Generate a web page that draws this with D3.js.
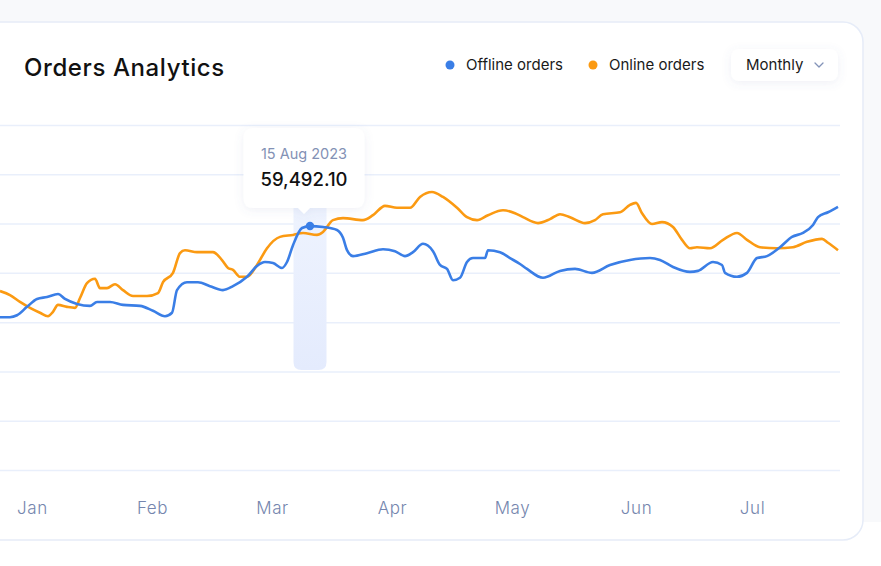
<!DOCTYPE html>
<html>
<head>
<meta charset="utf-8">
<script src="https://cdn.jsdelivr.net/npm/d3@7"></script>
<style>
  html, body { margin: 0; padding: 0; background: #ffffff; }
  svg { display: block; font-family: Inter, "Open Sans", sans-serif; }
</style>
</head>
<body>
<svg id="chart" width="881" height="566"></svg>
<script>
// ---------- DATA ----------
const monthLabels = ["Jan", "Feb", "Mar", "Apr", "May", "Jun", "Jul"];
const monthTickDays = [8, 38, 68, 98, 128, 159, 188];
const yTickValues = [10000, 20000, 30000, 40000, 50000, 60000, 70000, 80000];

const offlineDays = [0,2.5,4.25,6.75,9.25,11.75,14.5,16.25,19.25,22.5,24.25,27.5,30.75,35,38.25,41.25,43,44.25,46.75,49.5,52.5,55.75,58.25,61.75,64.25,66.25,68.25,70.5,71.75,73.25,75.5,77.5,80.75,84.25,85.75,86.75,88.25,91.75,95.75,98.75,101.25,103.25,105.75,108.25,110,111.75,113.25,115,116.75,118.25,121.25,122,125,127.5,130,131.75,135.75,140,143.75,148,152.5,157.5,162.5,165,168.25,172.5,174.5,178.25,180.5,181.25,184.25,186.75,189.25,191.75,195,198,200.75,203.25,204.5,207,209.5];
const offlineValues = [41000,41000,41400,43100,44700,45100,45700,44700,43700,43300,44100,44100,43500,43300,42300,41200,41900,46500,48100,48100,47300,46500,47300,49200,51400,52200,52000,51000,52200,55600,59100,59492.1,59300,58700,57100,54600,53400,54000,54800,54400,53400,54200,55900,54400,51600,50800,48500,49000,52200,53000,53000,54600,54200,53000,51800,50800,49000,50400,50800,50000,51600,52600,53000,52600,51200,50200,50400,52200,51600,50000,49200,50000,53000,53400,55200,57300,58100,59700,61300,62300,63400];

const onlineDays = [0,2.5,5,7.5,10,12,13.25,14.5,16.75,18.75,20,21.75,23.75,25,26.75,28.75,30.75,33.25,36.75,39.5,40.75,43.25,45,46.25,49.25,53.25,55.5,57,58.25,60,61.75,64.25,66.75,70,73.25,75.75,79.25,80.75,83.25,85.75,90.75,93.25,96.25,99.25,102.5,105,108,110.75,114.25,116.75,119.25,122,125.75,128.75,130.75,134.5,137.5,140,142.5,146.25,148.75,150.75,155,157.5,159,160.5,163,165.5,168.25,170.5,172.5,174.25,177.5,180.75,184.25,186.75,190,194.25,198.25,201.75,205.5,207,209.5];
const onlineValues = [46300,45500,44100,42900,41900,41200,42100,43500,43100,42900,44900,47900,48800,46900,46900,47700,46500,45300,45300,45900,48100,50000,54000,54600,54200,54200,52600,51000,50600,49200,49200,51600,55000,57300,57700,58100,57700,58300,60700,61100,60700,61700,63600,63200,63200,65400,66400,65400,63200,61300,60700,61700,62700,62100,61300,60100,60900,61900,61300,60100,60700,61900,62300,63800,64200,62100,59900,60300,59300,56700,55000,55200,55000,56700,58100,56700,55200,55000,55200,56300,56900,56100,54600];

const seriesNames = ["Offline orders", "Online orders"];
const seriesColors = ["#3a7ee6", "#fb9a12"];
const highlightIndex = 31;          // point of offline series shown in tooltip
const highlightDateLabel = "15 Aug 2023";
const titleText = "Orders Analytics";
const periodLabel = "Monthly";

// ---------- SETUP ----------
const svg = d3.select("#chart");
const defs = svg.append("defs");

const shadow = defs.append("filter").attr("id", "shadow")
  .attr("x", "-30%").attr("y", "-30%").attr("width", "160%").attr("height", "160%");
shadow.append("feDropShadow").attr("dx", 0).attr("dy", 2).attr("stdDeviation", 5)
  .attr("flood-color", "#5a6fa8").attr("flood-opacity", 0.10);

const bandGrad = defs.append("linearGradient").attr("id", "bandGrad")
  .attr("x1", 0).attr("y1", 0).attr("x2", 0).attr("y2", 1);
bandGrad.append("stop").attr("offset", "0%").attr("stop-color", "#eef3fe");
bandGrad.append("stop").attr("offset", "100%").attr("stop-color", "#e4ebfd");

// page background + card
svg.append("rect").attr("x", 0).attr("y", 0).attr("width", 881).attr("height", 522).attr("fill", "#f8f9fb");
svg.append("rect").attr("x", -30).attr("y", 22).attr("width", 893).attr("height", 518)
  .attr("rx", 20).attr("fill", "#ffffff").attr("stroke", "#e6ecf8").attr("stroke-width", 1.5);

// ---------- SCALES ----------
const x = d3.scaleLinear().domain([0, 210]).range([0, 840]);
const y = d3.scaleLinear().domain([10000, 80000]).range([470, 125]);

// gridlines
const gridAxis = d3.axisLeft(y).tickValues(yTickValues).tickSize(-840).tickFormat("");
const gridG = svg.append("g").call(gridAxis);
gridG.select(".domain").remove();
gridG.selectAll(".tick line").attr("stroke", "#e9effb").attr("stroke-width", 1.5)
  .attr("x1", 0).attr("x2", 840);

// x axis labels
const xAxis = d3.axisBottom(x).tickValues(monthTickDays).tickSize(0)
  .tickFormat((d, i) => monthLabels[i]);
const xG = svg.append("g").attr("transform", "translate(0,499)").call(xAxis);
xG.select(".domain").remove();
xG.selectAll("text").attr("fill", "#7586ae").attr("font-size", 17).attr("font-weight", 300)
  .attr("letter-spacing", 0.6).attr("font-family", "Inter, sans-serif");

// highlight band
const hx = x(offlineDays[highlightIndex]);
const hy = y(offlineValues[highlightIndex]);
svg.append("path")
  .attr("d", (() => {
    const w = 33, top = 208, bottom = 370, r = 8, l = hx - w / 2;
    return `M${l},${top} H${l + w} V${bottom - r} Q${l + w},${bottom} ${l + w - r},${bottom} H${l + r} Q${l},${bottom} ${l},${bottom - r} Z`;
  })())
  .attr("fill", "url(#bandGrad)");

// lines
const line = d3.line().curve(d3.curveMonotoneX);
const offlinePts = offlineDays.map((d, i) => [x(d), y(offlineValues[i])]);
const onlinePts = onlineDays.map((d, i) => [x(d), y(onlineValues[i])]);

svg.append("path").attr("d", line(onlinePts)).attr("fill", "none")
  .attr("stroke", seriesColors[1]).attr("stroke-width", 2.6).attr("stroke-linejoin", "round");
svg.append("path").attr("d", line(offlinePts)).attr("fill", "none")
  .attr("stroke", seriesColors[0]).attr("stroke-width", 2.6).attr("stroke-linejoin", "round");

svg.append("circle").attr("cx", hx).attr("cy", hy).attr("r", 4.2).attr("fill", seriesColors[0]);

// tooltip
const tcx = hx - 6;
const tw = 121, th = 80, tTop = 128;
const tg = svg.append("g").attr("filter", "url(#shadow)");
tg.append("path").attr("d", (() => {
  const l = tcx - tw / 2, r = tcx + tw / 2, t = tTop, b = tTop + th, rr = 10, ax = tcx;
  return `M${l + rr},${t} H${r - rr} Q${r},${t} ${r},${t + rr} V${b - rr} Q${r},${b} ${r - rr},${b}
    H${ax + 6} L${ax},${b + 6} L${ax - 6},${b} H${l + rr} Q${l},${b} ${l},${b - rr} V${t + rr} Q${l},${t} ${l + rr},${t} Z`;
})()).attr("fill", "#ffffff");
svg.append("text").attr("x", tcx).attr("y", 159).attr("text-anchor", "middle")
  .attr("font-size", 14.5).attr("fill", "#8391b5").text(highlightDateLabel);
svg.append("text").attr("x", tcx).attr("y", 186).attr("text-anchor", "middle")
  .attr("font-size", 18.5).attr("font-weight", 500).attr("fill", "#111111")
  .text(d3.format(",.2f")(offlineValues[highlightIndex]));

// title
svg.append("text").attr("x", 24).attr("y", 76).attr("font-size", 24).attr("font-weight", 500)
  .attr("letter-spacing", 0.6).attr("fill", "#111111").text(titleText);

// legend
const legendX = [450, 593];
seriesNames.forEach((name, i) => {
  svg.append("circle").attr("cx", legendX[i]).attr("cy", 65).attr("r", 4.5).attr("fill", seriesColors[i]);
  svg.append("text").attr("x", legendX[i] + 16).attr("y", 70).attr("font-size", 15)
    .attr("fill", "#1a1a1a").text(name);
});

// period dropdown
const dg = svg.append("g");
dg.append("rect").attr("x", 731).attr("y", 49).attr("width", 107).attr("height", 32).attr("rx", 8)
  .attr("fill", "#ffffff").attr("filter", "url(#shadow)");
dg.append("text").attr("x", 746).attr("y", 70).attr("font-size", 15).attr("fill", "#1a1a1a").text(periodLabel);
dg.append("path").attr("d", "M815,63 L819,67 L823,63").attr("fill", "none")
  .attr("stroke", "#8393b8").attr("stroke-width", 1.3).attr("stroke-linecap", "round").attr("stroke-linejoin", "round");
</script>
</body>
</html>
